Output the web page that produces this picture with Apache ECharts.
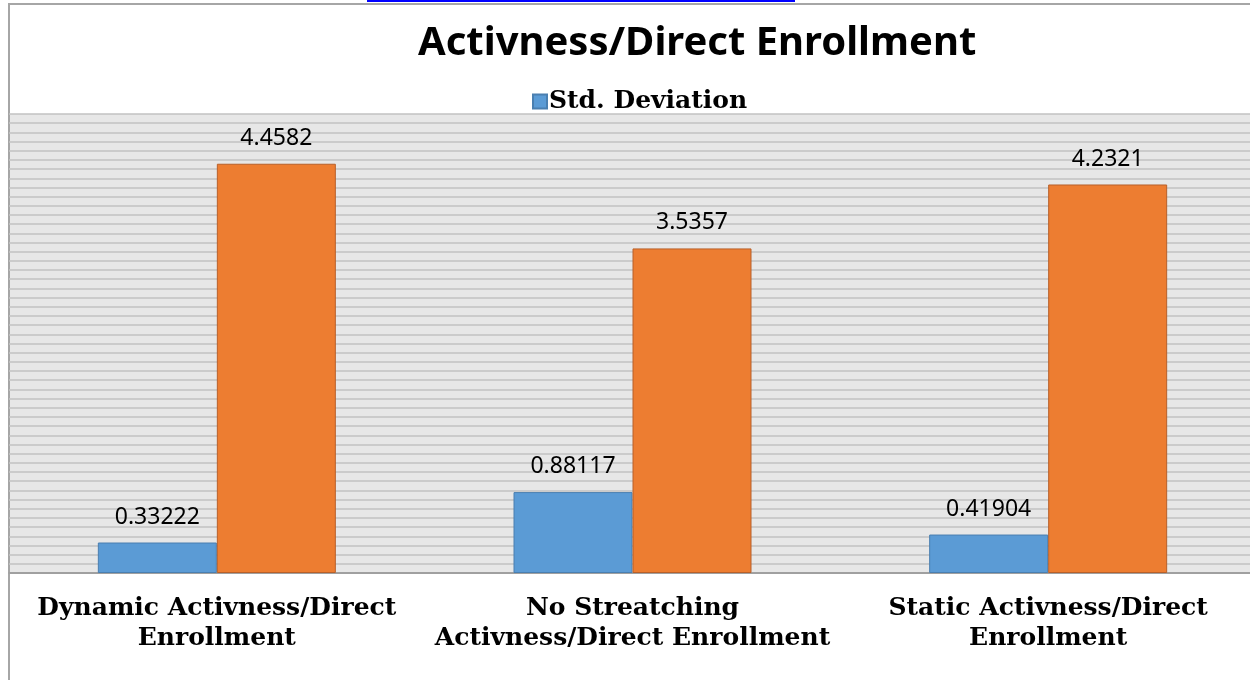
<!DOCTYPE html>
<html>
<head>
<meta charset="utf-8">
<script src="https://cdn.jsdelivr.net/npm/echarts@6/dist/echarts.min.js"></script>
<style>
  html, body { margin: 0; padding: 0; background: #fff; }
  #chart { width: 1250px; height: 680px; }
</style>
</head>
<body>
<div id="chart"></div>
<script>
"use strict"
// data
const categories = [
  'Dynamic Activness/Direct\nEnrollment',
  'No Streatching\nActivness/Direct Enrollment',
  'Static Activness/Direct\nEnrollment'
];
const stdDeviation = [0.33222, 0.88117, 0.41904];
const meanValues = [4.4582, 3.5357, 4.2321];
const legendItems = ['Std. Deviation'];

const myChart = echarts.init(document.getElementById('chart'));

const labelStyle = {
  show: true,
  position: 'top',
  distance: 14,
  color: '#000',
  fontFamily: 'Noto Sans',
  fontSize: 23
};

const option = {
  backgroundColor: '#fff',
  animation: false,
  title: {
    text: 'Activness/Direct Enrollment',
    left: 413,
    top: 19,
    textStyle: {
      fontFamily: 'Noto Sans',
      fontWeight: 'bold',
      fontSize: 40,
      color: '#000'
    }
  },
  legend: {
    data: legendItems,
    left: 527,
    top: 84,
    itemWidth: 14,
    itemHeight: 14,
    itemGap: 6,
    icon: 'rect',
    textStyle: {
      fontFamily: 'DejaVu Serif',
      fontWeight: 'bold',
      fontSize: 25,
      color: '#000',
      padding: [0, 0, 0, -3]
    }
  },
  graphic: [
    // frame of the chart box
    { type: 'line', shape: { x1: 9, y1: 4, x2: 9, y2: 680 }, style: { stroke: '#a6a6a6', lineWidth: 2 } },
    { type: 'line', shape: { x1: 8, y1: 4, x2: 1250, y2: 4 }, style: { stroke: '#a6a6a6', lineWidth: 2 } },
    // cut-off link at the top
    { type: 'rect', shape: { x: 367, y: 0, width: 428, height: 2 }, style: { fill: '#0000ff' } }
  ],
  grid: {
    left: 9,
    right: -6,
    top: 114,
    bottom: 107,
    outerBoundsMode: 'none',
    containLabel: false,
    show: true,
    backgroundColor: '#e7e7e7',
    borderWidth: 0
  },
  xAxis: {
    type: 'category',
    data: categories,
    axisTick: { show: false },
    axisLine: { lineStyle: { color: '#a0a0a0', width: 2 } },
    axisLabel: {
      interval: 0,
      margin: 20,
      lineHeight: 30,
      color: '#000',
      fontFamily: 'DejaVu Serif',
      fontWeight: 'bold',
      fontSize: 25,
      align: 'center'
    }
  },
  yAxis: {
    type: 'value',
    min: 0,
    max: 5,
    interval: 0.1,
    axisLine: { show: false },
    axisTick: { show: false },
    axisLabel: { show: false },
    splitLine: { lineStyle: { color: '#c2c2c2', width: 1.5 } }
  },
  series: [
    {
      name: 'Std. Deviation',
      type: 'bar',
      data: stdDeviation,
      barWidth: 119,
      barGap: '0%',
      itemStyle: { color: '#5b9bd5', borderColor: '#4a7fb0', borderWidth: 1 },
      label: labelStyle
    },
    {
      name: 'Mean',
      type: 'bar',
      data: meanValues,
      barWidth: 119,
      barGap: '0%',
      itemStyle: { color: '#ed7d31', borderColor: '#b8602a', borderWidth: 1 },
      label: labelStyle
    }
  ]
};

myChart.setOption(option);
</script>
</body>
</html>
